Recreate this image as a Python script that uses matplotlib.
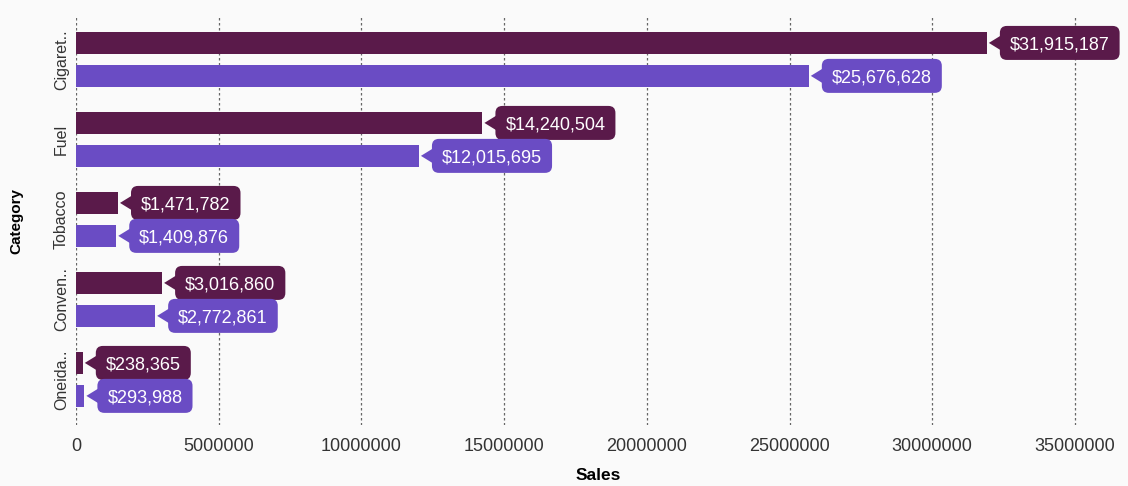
import matplotlib
matplotlib.use("Agg")
import matplotlib.pyplot as plt
from matplotlib.patches import FancyBboxPatch, Polygon
from matplotlib.transforms import IdentityTransform

categories = ["Cigaret..", "Fuel", "Tobacco", "Conven..", "Oneida.."]
sales_a = [31915187, 14240504, 1471782, 3016860, 238365]
sales_b = [25676628, 12015695, 1409876, 2772861, 293988]
xticks = [0, 5000000, 10000000, 15000000, 20000000, 25000000, 30000000, 35000000]

dark = "#5a1a4a"
light = "#6a4cc4"
bg = "#fafafa"

plt.rcParams["font.family"] = ["Liberation Sans", "DejaVu Sans"]

fig = plt.figure(figsize=(11.28, 4.86), dpi=100, facecolor=bg)
ax = fig.add_axes([76 / 1128, 61 / 486, (1120 - 76) / 1128, (469 - 61) / 486])
ax.set_facecolor(bg)

bar_h = 0.275
off = 0.206
ys = list(range(len(categories)))

ax.barh([y - off for y in ys], sales_a, height=bar_h, color=dark, zorder=2)
ax.barh([y + off for y in ys], sales_b, height=bar_h, color=light, zorder=2)

ax.set_xlim(0, 36.58e6)
ax.set_ylim(len(categories) - 1 + 0.57, -0.53)

ax.set_xticks(xticks)
ax.set_xticklabels([str(t) for t in xticks], fontsize=13, color="#333333")
ax.set_yticks(ys)
ax.set_yticklabels(categories, rotation=90, va="center", fontsize=11.5, color="#333333")
ax.tick_params(axis="x", length=0, pad=9)
ax.tick_params(axis="y", length=0, pad=5)

for s in ax.spines.values():
    s.set_visible(False)

ax.grid(axis="x", color="#666666", linestyle=(0, (2, 2)), linewidth=0.9, zorder=0)
ax.set_axisbelow(True)

ax.set_xlabel("Sales", fontsize=12.5, fontweight="bold", labelpad=10)
ax.set_ylabel("Category", fontsize=11, fontweight="bold", labelpad=22)

renderer = fig.canvas.get_renderer()
ident = IdentityTransform()


def callout(value, y, color, z):
    # value labels: rounded bubble with a pointer towards the end of the bar
    xe, yc = ax.transData.transform((value, y))
    label = f"${value:,}"
    box_left = xe + 13
    pad_x = 10
    half_h = 17
    txt = fig.text(box_left + pad_x, yc - 6.5, label, transform=ident,
                   ha="left", va="baseline", fontsize=13, color="white",
                   zorder=z + 0.5)
    w = txt.get_window_extent(renderer).width
    box = FancyBboxPatch((box_left, yc - half_h), w + 2 * pad_x, 2 * half_h,
                         boxstyle="round,pad=0,rounding_size=7",
                         fc=color, ec="none", transform=ident, zorder=z)
    tri = Polygon([(xe + 2, yc), (box_left + 2, yc + 8), (box_left + 2, yc - 8)],
                  closed=True, fc=color, ec="none", transform=ident, zorder=z)
    fig.add_artist(box)
    fig.add_artist(tri)


for i, y in enumerate(ys):
    callout(sales_a[i], y - off, dark, 4 + 2 * i)
    callout(sales_b[i], y + off, light, 5 + 2 * i)

fig.savefig("out.png", dpi=100, facecolor=bg)
